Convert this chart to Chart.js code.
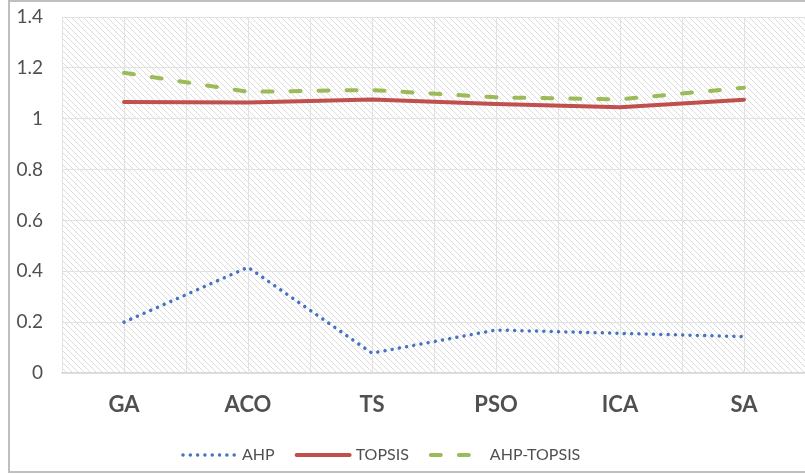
<!DOCTYPE html>
<html>
<head>
<meta charset="utf-8">
<script src="https://cdn.jsdelivr.net/npm/chart.js@4"></script>
<style>
    html, body { margin: 0; padding: 0; background: #ffffff; overflow: hidden; }
    #wrap { position: relative; width: 805px; height: 474px; overflow: hidden; }
    #frame { position: absolute; left: 8px; top: 0; width: 900px; height: 473px; box-sizing: border-box; border: 2px solid #bfbfbf; }
    #chartBox { position: absolute; left: 0; top: 0; width: 808px; height: 474px; }
</style>
</head>
<body>
<div id="wrap">
    <div id="frame"></div>
    <div id="chartBox"><canvas id="methodChart"></canvas></div>
</div>
<script>
const categories = ['GA', 'ACO', 'TS', 'PSO', 'ICA', 'SA'];
const ahpValues = [0.200, 0.416, 0.078, 0.169, 0.156, 0.143];
const topsisValues = [1.066, 1.064, 1.076, 1.058, 1.045, 1.075];
const ahpTopsisValues = [1.181, 1.106, 1.113, 1.084, 1.076, 1.122];
const yTicks = [0, 0.2, 0.4, 0.6, 0.8, 1, 1.2, 1.4];

const textColor = '#505050';
const gridColor = '#e2e2e2';

// diagonal hatch used behind the plot
function makeHatch() {
    const c = document.createElement('canvas');
    c.width = 6;
    c.height = 6;
    const g = c.getContext('2d');
    g.strokeStyle = '#dcdcdc';
    g.lineWidth = 1;
    [-6, 0, 6].forEach(k => {
        g.beginPath();
        g.moveTo(k, 0);
        g.lineTo(k + 6, 6);
        g.stroke();
    });
    return g.createPattern(c, 'repeat');
}

const plotBackground = {
    id: 'plotBackground',
    beforeDraw(chart) {
        const { ctx, chartArea } = chart;
        ctx.save();
        ctx.fillStyle = makeHatch();
        ctx.fillRect(chartArea.left, chartArea.top, chartArea.right - chartArea.left, chartArea.bottom - chartArea.top);
        ctx.restore();
    },
    beforeDatasetsDraw(chart) {
        // extra vertical grid lines through every category
        const { ctx, chartArea } = chart;
        const x = chart.scales.x;
        ctx.save();
        ctx.strokeStyle = gridColor;
        ctx.lineWidth = 1;
        categories.forEach((c, i) => {
            const px = Math.round(x.getPixelForValue(i)) + 0.5;
            ctx.beginPath();
            ctx.moveTo(px, chartArea.top);
            ctx.lineTo(px, chartArea.bottom);
            ctx.stroke();
        });
        ctx.restore();
    }
};

const bottomLegend = {
    id: 'bottomLegend',
    afterDraw(chart) {
        const ctx = chart.ctx;
        const y = 455;
        let x = 183;
        ctx.save();
        ctx.font = '16px Lato';
        ctx.textBaseline = 'middle';
        chart.data.datasets.forEach(ds => {
            ctx.strokeStyle = ds.borderColor;
            ctx.lineWidth = ds.borderWidth;
            ctx.lineCap = ds.borderCapStyle || 'butt';
            ctx.setLineDash(ds.borderDash || []);
            ctx.beginPath();
            ctx.moveTo(x, y);
            ctx.lineTo(x + 53, y);
            ctx.stroke();
            ctx.setLineDash([]);
            ctx.fillStyle = textColor;
            ctx.fillText(ds.label, x + 59, y);
            x += 59 + ctx.measureText(ds.label).width + 22;
        });
        ctx.restore();
    }
};

const ctx = document.getElementById('methodChart').getContext('2d');

const config = {
    type: 'line',
    data: {
        labels: categories,
        datasets: [
            {
                label: 'AHP',
                data: ahpValues,
                borderColor: '#4472c4',
                borderWidth: 3.5,
                borderDash: [0.01, 7.3],
                borderCapStyle: 'round',
                pointRadius: 0,
                tension: 0,
                order: 3
            },
            {
                label: 'TOPSIS',
                data: topsisValues,
                borderColor: '#c0504d',
                borderWidth: 4,
                borderCapStyle: 'round',
                pointRadius: 0,
                tension: 0,
                order: 2
            },
            {
                label: 'AHP-TOPSIS',
                data: ahpTopsisValues,
                borderColor: '#9bbb59',
                borderWidth: 4,
                borderDash: [10, 18],
                borderCapStyle: 'round',
                pointRadius: 0,
                tension: 0,
                order: 1
            }
        ]
    },
    options: {
        responsive: false,
        animation: false,
        layout: { padding: { top: 17, right: 2, left: 0, bottom: 0 } },
        plugins: {
            legend: { display: false },
            tooltip: { enabled: false }
        },
        scales: {
            x: {
                offset: true,
                grid: { color: gridColor, offset: true, drawTicks: false },
                border: { color: '#d9d9d9', width: 1.5 },
                ticks: {
                    color: textColor,
                    font: { family: 'Lato', size: 22, weight: 'bold' },
                    padding: 19
                },
                afterFit(scale) {
                    scale.height = 101;
                    scale.paddingLeft = 0;
                    scale.paddingRight = 0;
                }
            },
            y: {
                min: 0,
                max: 1.4,
                afterBuildTicks(scale) { scale.ticks = yTicks.map(v => ({ value: v })); },
                grid: { color: gridColor, drawTicks: false },
                border: { display: false },
                ticks: {
                    color: textColor,
                    font: { family: 'Lato', size: 19 },
                    padding: 19,
                    callback: v => String(Math.round(v * 10) / 10)
                },
                afterFit(scale) {
                    scale.width = 62;
                    scale.paddingTop = 0;
                    scale.paddingBottom = 0;
                }
            }
        }
    },
    plugins: [plotBackground, bottomLegend]
};

const canvas = document.getElementById('methodChart');
canvas.width = 808;
canvas.height = 474;
const methodChart = new Chart(ctx, config);
</script>
</body>
</html>
